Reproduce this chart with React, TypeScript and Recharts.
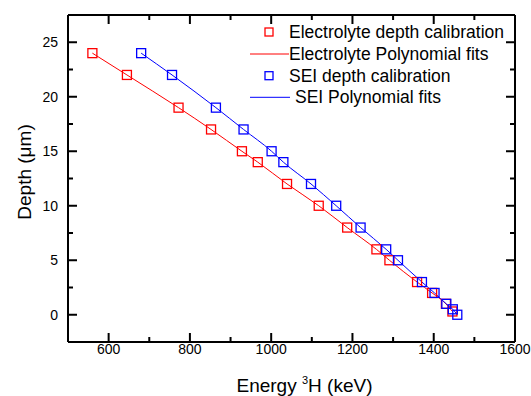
import {
  ComposedChart, Line, Scatter, XAxis, YAxis, Legend,
} from "recharts";

// Electrolyte depth calibration (energy keV, depth µm)
const electrolyteEnergy = [560, 645, 772, 852, 928, 967, 1039, 1117, 1187, 1259, 1291, 1359, 1396, 1430, 1446];
const electrolyteDepth = [24, 22, 19, 17, 15, 14, 12, 10, 8, 6, 5, 3, 2, 1, 0.3];

// SEI depth calibration
const seiEnergy = [680, 756, 864, 932, 1001, 1030, 1098, 1160, 1220, 1283, 1312, 1371, 1402, 1431, 1447, 1458];
const seiDepth = [24, 22, 19, 17, 15, 14, 12, 10, 8, 6, 5, 3, 2, 1, 0.5, 0];

const xTicks = [600, 700, 800, 900, 1000, 1100, 1200, 1300, 1400, 1500, 1600];
const xLabels = [600, 800, 1000, 1200, 1400, 1600];
const yTicks = [0, 2.5, 5, 7.5, 10, 12.5, 15, 17.5, 20, 22.5, 25];
const yLabels = [0, 5, 10, 15, 20, 25];

const legendLabels = [
  "Electrolyte depth calibration",
  "Electrolyte Polynomial fits",
  "SEI depth calibration",
  "SEI Polynomial fits",
];

const RED = "#ff0000";
const BLUE = "#0000ff";
const FONT = "'Liberation Sans', Arial, sans-serif";

const electrolyteData = electrolyteEnergy.map((x, i) => ({ x, y: electrolyteDepth[i] }));
const seiData = seiEnergy.map((x, i) => ({ x, y: seiDepth[i] }));

const squareShape = (color: string) => (p: any) => (
  <rect x={p.cx - 4.5} y={p.cy - 4.5} width={9} height={9} fill="none" stroke={color} strokeWidth={1.3} />
);

const BottomTick = (p: any) => {
  const { x, y, payload } = p;
  const major = xLabels.includes(payload.value);
  return (
    <g>
      <line x1={x} x2={x} y1={y} y2={y - (major ? 9 : 5)} stroke="#000" strokeWidth={2} />
      {major && (
        <text x={x} y={y + 12} textAnchor="middle" fontSize={14} fontFamily={FONT} fill="#000">
          {payload.value}
        </text>
      )}
    </g>
  );
};

const TopTick = (p: any) => {
  const { x, y, payload } = p;
  const major = xLabels.includes(payload.value);
  return <line x1={x} x2={x} y1={y} y2={y + (major ? 9 : 5)} stroke="#000" strokeWidth={2} />;
};

const LeftTick = (p: any) => {
  const { x, y, payload } = p;
  const major = yLabels.includes(payload.value);
  return (
    <g>
      <line x1={x} x2={x + (major ? 9 : 5)} y1={y} y2={y} stroke="#000" strokeWidth={2} />
      {major && (
        <text x={x - 10} y={y + 5} textAnchor="end" fontSize={14} fontFamily={FONT} fill="#000">
          {payload.value}
        </text>
      )}
    </g>
  );
};

const RightTick = (p: any) => {
  const { x, y, payload } = p;
  const major = yLabels.includes(payload.value);
  return <line x1={x} x2={x - (major ? 9 : 5)} y1={y} y2={y} stroke="#000" strokeWidth={2} />;
};

const LegendBox = () => {
  const rows = [22, 44, 65.7, 87.3];
  return (
    <svg width={291} height={100} style={{ display: "block" }}>
      {legendLabels.map((label, i) => {
        const color = i < 2 ? RED : BLUE;
        const cy = rows[i];
        const isMarker = i % 2 === 0;
        return (
          <g key={label}>
            {isMarker ? (
              <rect x={25} y={cy - 4} width={8} height={8} fill="none" stroke={color} strokeWidth={1.3} />
            ) : (
              <line x1={10} x2={i === 3 ? 50 : 49} y1={cy} y2={cy} stroke={color} strokeWidth={1} />
            )}
            <text x={i === 3 ? 55 : 49} y={cy + 6} fontSize={17.5} fontFamily={FONT} fill="#000">
              {label}
            </text>
          </g>
        );
      })}
    </svg>
  );
};

export default function App() {
  return (
    <div style={{ position: "absolute", left: 0, top: 0, width: 531, height: 396, background: "#fff", fontFamily: FONT }}>
      <ComposedChart width={531} height={396} margin={{ top: 0, right: 0, bottom: 0, left: 0 }}>
        <XAxis
          xAxisId="b" type="number" dataKey="x" domain={[500, 1600]} allowDataOverflow
          ticks={xTicks} interval={0} tickLine={false} tickSize={0} tickMargin={0}
          tick={<BottomTick />} height={54}
          axisLine={{ stroke: "#000", strokeWidth: 2 }}
          label={{
            content: (props: any) => {
              const vb = props.viewBox;
              return (
                <text x={vb.x + vb.width / 2 + 13} y={vb.y + 50} textAnchor="middle" fontSize={19} fontFamily={FONT} fill="#000">
                  Energy <tspan dy={-8} fontSize={11}>3</tspan><tspan dy={8}>H (keV)</tspan>
                </text>
              );
            },
          }}
        />
        <XAxis
          xAxisId="t" orientation="top" type="number" dataKey="x" domain={[500, 1600]} allowDataOverflow
          ticks={xTicks} interval={0} tickLine={false} tickSize={0} tickMargin={0}
          tick={<TopTick />} height={15}
          axisLine={{ stroke: "#000", strokeWidth: 2 }}
        />
        <YAxis
          yAxisId="l" type="number" domain={[-2.5, 27.5]} allowDataOverflow
          ticks={yTicks} interval={0} tickLine={false} tickSize={0} tickMargin={0}
          tick={<LeftTick />} width={68}
          axisLine={{ stroke: "#000", strokeWidth: 2 }}
          label={{
            content: () => (
              <text x={24} y={172} transform="rotate(-90 24 172)" textAnchor="middle" dominantBaseline="central" fontSize={19} fontFamily={FONT} fill="#000">
                Depth (μm)
              </text>
            ),
          }}
        />
        <YAxis
          yAxisId="r" orientation="right" type="number" domain={[-2.5, 27.5]} allowDataOverflow
          ticks={yTicks} interval={0} tickLine={false} tickSize={0} tickMargin={0}
          tick={<RightTick />} width={16}
          axisLine={{ stroke: "#000", strokeWidth: 2 }}
        />
        <Legend
          layout="vertical" align="center" verticalAlign="middle"
          wrapperStyle={{ position: "absolute", left: 240, top: 10, width: 291, height: 100 }}
          content={() => <LegendBox />}
        />
        <Line
          xAxisId="b" yAxisId="l" data={electrolyteData} dataKey="y" type="monotone"
          stroke={RED} strokeWidth={1} dot={false} isAnimationActive={false}
        />
        <Scatter
          xAxisId="b" yAxisId="l" data={electrolyteData} dataKey="y"
          shape={squareShape(RED)} isAnimationActive={false}
        />
        <Line
          xAxisId="b" yAxisId="l" data={seiData} dataKey="y" type="monotone"
          stroke={BLUE} strokeWidth={1} dot={false} isAnimationActive={false}
        />
        <Scatter
          xAxisId="b" yAxisId="l" data={seiData} dataKey="y"
          shape={squareShape(BLUE)} isAnimationActive={false}
        />
      </ComposedChart>
    </div>
  );
}
